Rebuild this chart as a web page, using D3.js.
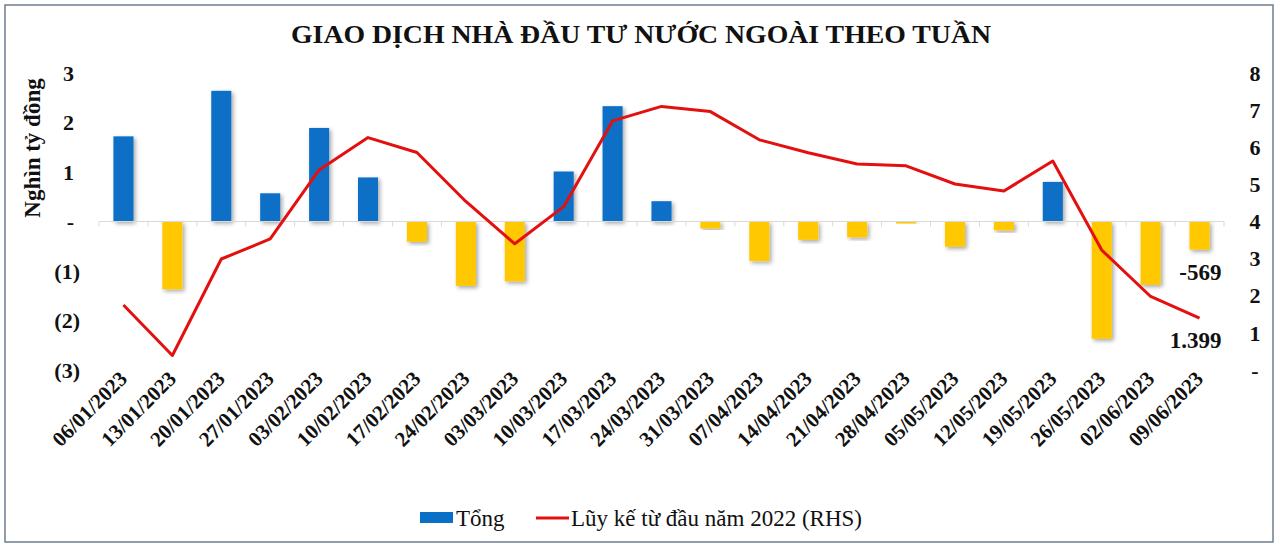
<!DOCTYPE html>
<html>
<head>
<meta charset="utf-8">
<script src="https://cdn.jsdelivr.net/npm/d3@7"></script>
<style>
  body { margin: 0; background: #fff; }
  svg { display: block; font-family: "Liberation Serif", "Times New Roman", serif; }
</style>
</head>
<body>
<div id="chart"></div>
<script>
// weekly dates
var weeks = ["06/01/2023","13/01/2023","20/01/2023","27/01/2023","03/02/2023","10/02/2023",
	"17/02/2023","24/02/2023","03/03/2023","10/03/2023","17/03/2023","24/03/2023","31/03/2023",
	"07/04/2023","14/04/2023","21/04/2023","28/04/2023","05/05/2023","12/05/2023","19/05/2023",
	"26/05/2023","02/06/2023","09/06/2023"];

// weekly net (thousand bn VND) - "Tổng"
var tong = [1.72, -1.37, 2.64, 0.57, 1.89, 0.89, -0.41, -1.30, -1.21, 1.01, 2.33, 0.41, -0.14,
	-0.80, -0.37, -0.32, -0.04, -0.51, -0.18, 0.80, -2.37, -1.28, -0.569];

// cumulative (RHS)
var luyKe = [1.75, 0.39, 2.99, 3.53, 5.39, 6.26, 5.86, 4.54, 3.40, 4.40, 6.71, 7.10, 6.96,
	6.20, 5.85, 5.55, 5.50, 5.01, 4.82, 5.63, 3.23, 1.98, 1.399];

var leftTicks = [3, 2, 1, 0, -1, -2, -3];
var leftTickLabels = ["3", "2", "1", "-", "(1)", "(2)", "(3)"];
var rightTicks = [8, 7, 6, 5, 4, 3, 2, 1, 0];
var rightTickLabels = ["8", "7", "6", "5", "4", "3", "2", "1", "-"];

var W = 1280, H = 548;

var svg = d3.select("#chart").append("svg")
	.attr("width", W)
	.attr("height", H);

var defs = svg.append("defs");
var shadow = defs.append("filter").attr("id", "shadow")
	.attr("x", "-50%").attr("y", "-20%").attr("width", "200%").attr("height", "140%");
shadow.append("feDropShadow")
	.attr("dx", 2).attr("dy", 2).attr("stdDeviation", 2)
	.attr("flood-color", "#000").attr("flood-opacity", 0.35);

// outer frame
svg.append("rect")
	.attr("x", 5).attr("y", 5)
	.attr("width", 1268).attr("height", 537)
	.attr("fill", "#fff")
	.attr("stroke", "#6b7f8e")
	.attr("stroke-width", 1.5);

// title
svg.append("text")
	.attr("x", 641).attr("y", 43)
	.attr("text-anchor", "middle")
	.attr("font-weight", "bold")
	.attr("font-size", 26)
	.attr("textLength", 700)
	.attr("lengthAdjust", "spacingAndGlyphs")
	.attr("fill", "#111")
	.text("GIAO DỊCH NHÀ ĐẦU TƯ NƯỚC NGOÀI THEO TUẦN");

// scales
var x = d3.scaleBand().domain(weeks).range([99, 1224]).padding(0);
var yL = d3.scaleLinear().domain([-3, 3]).range([370, 73]);
var yR = d3.scaleLinear().domain([0, 8]).range([370, 73]);
var barW = x.bandwidth() * 0.41;
function cx(d) { return x(d) + x.bandwidth() / 2; }

// bars
svg.append("g").selectAll("rect")
	.data(weeks)
	.enter().append("rect")
	.attr("x", function (d) { return cx(d) - barW / 2; })
	.attr("y", function (d, i) { return yL(Math.max(0, tong[i])); })
	.attr("width", barW)
	.attr("height", function (d, i) { return Math.abs(yL(tong[i]) - yL(0)); })
	.attr("fill", function (d, i) { return tong[i] >= 0 ? "#0a70c6" : "#ffc800"; })
	.attr("filter", "url(#shadow)");

// zero axis with category ticks
var axisG = svg.append("g").attr("transform", "translate(0," + yL(0) + ")");
axisG.append("line")
	.attr("x1", 99).attr("x2", 1224)
	.attr("stroke", "#d9d9d9").attr("stroke-width", 1);
axisG.selectAll(".tk")
	.data(weeks.concat(["end"]))
	.enter().append("line")
	.attr("x1", function (d, i) { return i < weeks.length ? x(d) : x.range()[1]; })
	.attr("x2", function (d, i) { return i < weeks.length ? x(d) : x.range()[1]; })
	.attr("y1", 0).attr("y2", 5)
	.attr("stroke", "#d9d9d9");

// cumulative line
var line = d3.line()
	.x(function (d, i) { return cx(weeks[i]); })
	.y(function (d) { return yR(d); });
svg.append("path")
	.datum(luyKe)
	.attr("d", line)
	.attr("fill", "none")
	.attr("stroke", "#e3100f")
	.attr("stroke-width", 3)
	.attr("stroke-linejoin", "round");

// left axis labels
svg.append("g").selectAll("text")
	.data(leftTicks)
	.enter().append("text")
	.attr("x", function (d) { return d < 0 ? 80 : 74; })
	.attr("y", function (d) { return yL(d); })
	.attr("dy", "0.35em")
	.attr("text-anchor", "end")
	.attr("font-weight", "bold")
	.attr("font-size", 22)
	.attr("fill", "#111")
	.text(function (d, i) { return leftTickLabels[i]; });

// right axis labels
svg.append("g").selectAll("text")
	.data(rightTicks)
	.enter().append("text")
	.attr("x", 1255)
	.attr("y", function (d) { return yR(d); })
	.attr("dy", "0.35em")
	.attr("text-anchor", "middle")
	.attr("font-weight", "bold")
	.attr("font-size", 22)
	.attr("fill", "#111")
	.text(function (d, i) { return rightTickLabels[i]; });

// y axis title
svg.append("text")
	.attr("transform", "translate(40,148) rotate(-90)")
	.attr("text-anchor", "middle")
	.attr("font-weight", "bold")
	.attr("font-size", 23)
	.attr("fill", "#111")
	.text("Nghìn tỷ đồng");

// x labels, rotated
svg.append("g").selectAll("text")
	.data(weeks)
	.enter().append("text")
	.attr("transform", function (d) { return "translate(" + (cx(d) + 5) + ",380) rotate(-45)"; })
	.attr("text-anchor", "end")
	.attr("font-weight", "bold")
	.attr("font-size", 21)
	.attr("fill", "#111")
	.text(function (d) { return d; });

// data labels on last point
var last = weeks.length - 1;
svg.append("text")
	.attr("x", cx(weeks[last]) + 22).attr("y", 272)
	.attr("dy", "0.35em")
	.attr("text-anchor", "end")
	.attr("font-weight", "bold").attr("font-size", 23).attr("fill", "#111")
	.text(Math.round(tong[last] * 1000));
svg.append("text")
	.attr("x", cx(weeks[last]) + 22).attr("y", 340)
	.attr("dy", "0.35em")
	.attr("text-anchor", "end")
	.attr("font-weight", "bold").attr("font-size", 23).attr("fill", "#111")
	.text(d3.format(".3f")(luyKe[last]));

// legend
var leg = svg.append("g");
leg.append("rect")
	.attr("x", 420).attr("y", 512).attr("width", 33).attr("height", 11)
	.attr("fill", "#0a70c6");
leg.append("text")
	.attr("x", 456).attr("y", 518).attr("dy", "0.35em")
	.attr("font-size", 23).attr("fill", "#111")
	.text("Tổng");
leg.append("line")
	.attr("x1", 536).attr("x2", 569).attr("y1", 518).attr("y2", 518)
	.attr("stroke", "#e3100f").attr("stroke-width", 3);
leg.append("text")
	.attr("x", 571).attr("y", 518).attr("dy", "0.35em")
	.attr("font-size", 23).attr("fill", "#111")
	.text("Lũy kế từ đầu năm 2022 (RHS)");
</script>
</body>
</html>
